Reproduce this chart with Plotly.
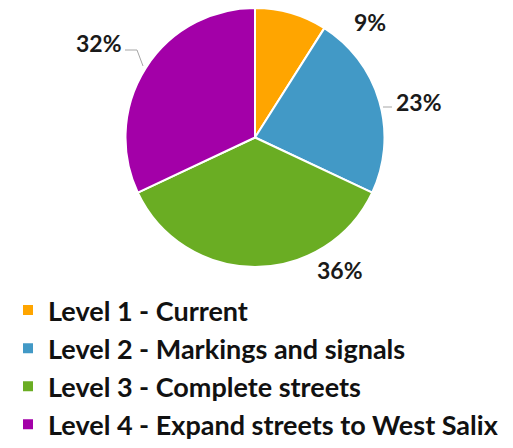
import plotly.graph_objects as go

labels = ["Level 1 - Current", "Level 2 - Markings and signals",
          "Level 3 - Complete streets", "Level 4 - Expand streets to West Salix"]
shares = [9, 23, 36, 32]
colors = ["#FFA500", "#4299C6", "#6AAD23", "#A300A8"]

# where the percent labels sit (pixels in the 513x448 picture)
label_pos = [(370, 22), (419, 102), (340, 270), (99, 43)]

W, H = 513, 448
OFF = 8  # page body margin


def px(x):
    return (x - OFF) / W


def py(y):
    return 1 - (y - OFF) / H


fig = go.Figure(go.Pie(
    labels=["<b>%s</b>" % l for l in labels], values=shares,
    sort=False, direction="clockwise",
    marker=dict(colors=colors, line=dict(color="white", width=2)),
    textinfo="none", hoverinfo="label+percent",
    domain=dict(x=[px(125), px(385)], y=[py(267), py(8)]),
))

for v, (lx, ly) in zip(shares, label_pos):
    fig.add_annotation(x=px(lx), y=py(ly), xref="paper", yref="paper",
                       xanchor="center", yanchor="middle", borderpad=0,
                       text="<b>%d%%</b>" % v, showarrow=False,
                       font=dict(size=23, color="#1a1a1a", family="Lato"))

# small leader lines (32% and 23%)
lead = dict(color="#a6a6a6", width=1)
fig.add_shape(type="path", xref="paper", yref="paper", line=lead,
              path="M %f %f L %f %f L %f %f" % (px(125), py(50), px(137), py(50),
                                               px(143), py(66)))
fig.add_shape(type="line", xref="paper", yref="paper", line=lead,
              x0=px(383), y0=py(107), x1=px(392), y1=py(107))

fig.update_layout(
    width=W, height=H, margin=dict(l=0, r=0, t=0, b=0),
    paper_bgcolor="white", plot_bgcolor="white",
    font_family="Lato",
    showlegend=True,
    legend=dict(x=0, y=py(286), xanchor="left", yanchor="top",
                font=dict(size=27, color="#111111", family="Lato"),
                itemwidth=30, traceorder="normal"),
)

fig.write_html("out.html")
